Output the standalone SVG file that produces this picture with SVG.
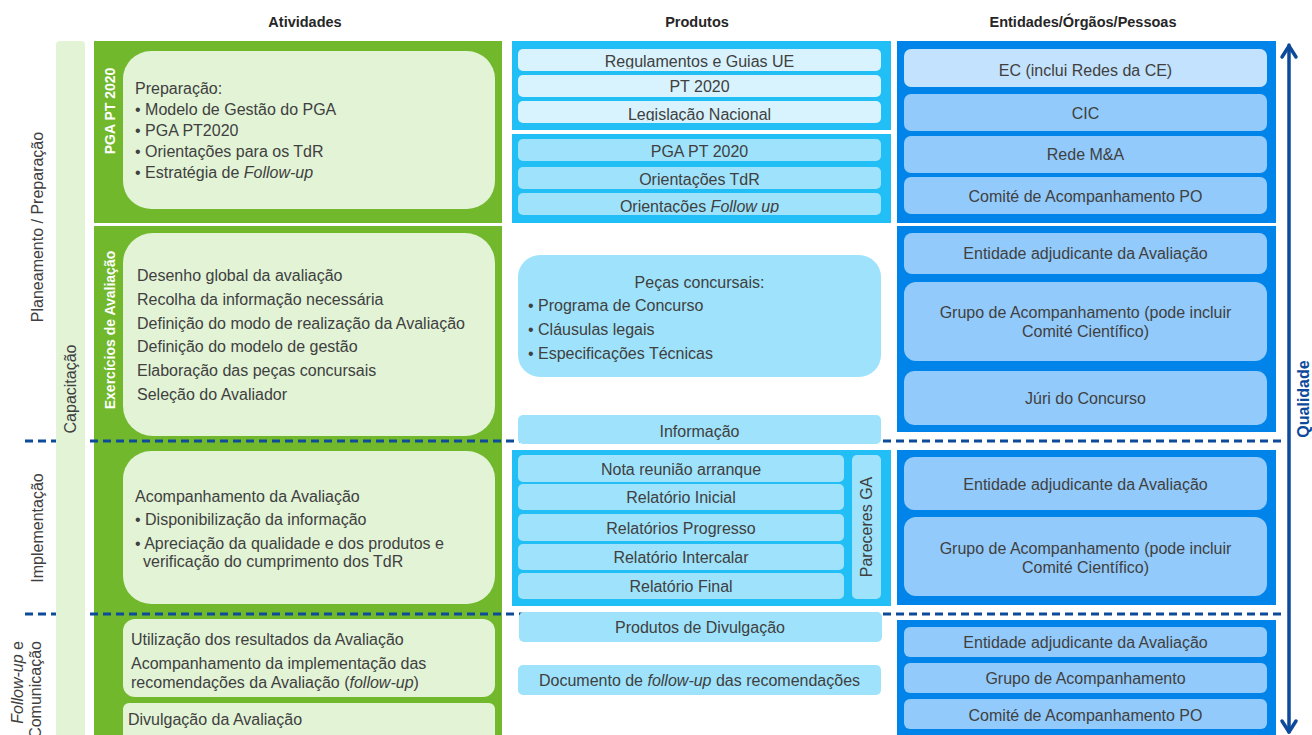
<svg xmlns="http://www.w3.org/2000/svg" width="1312" height="735" viewBox="0 0 1312 735">
<style>
.t{font-family:"Liberation Sans",Arial,Helvetica,sans-serif;font-size:16px;fill:#404040}
.c{text-anchor:middle}
.h{font-weight:bold;font-size:14.5px;fill:#262626}
.w{fill:#fff;font-weight:bold;font-size:14px}
.it{font-style:italic}
.g{fill:#71b82c}
.lg{fill:#e2f3d6}
.cy{fill:#22bff6}
.lc{fill:#9ee3fb}
.vlc{fill:#d8f3fd}
.bl{fill:#0084ea}
.lb{fill:#92cafb}
.vlb{fill:#c3e2fd}
.dash{stroke:#0d4a9a;stroke-width:3;stroke-dasharray:8 5;fill:none}
</style>
<defs>
<clipPath id="cp1"><rect x="518" y="49" width="363" height="19.5"/></clipPath>
<clipPath id="cp2"><rect x="518" y="101" width="363" height="20"/></clipPath>
<clipPath id="cp3"><rect x="518" y="193" width="363" height="20"/></clipPath>
</defs>
<rect width="1312" height="735" fill="#fff"/>

<g id="headers">
<text class="t c h" x="305" y="27">Atividades</text>
<text class="t c h" x="697" y="27">Produtos</text>
<text class="t c h" x="1083" y="27">Entidades/Órgãos/Pessoas</text>
</g>

<g id="phase-labels">
<text class="t c" transform="translate(42.5,227) rotate(-90)">Planeamento / Preparação</text>
<text class="t c" transform="translate(42.5,528) rotate(-90)">Implementação</text>
<text class="t" text-anchor="end" transform="translate(22.5,641) rotate(-90)"><tspan class="it">Follow-up</tspan> e</text>
<text class="t" text-anchor="end" transform="translate(40.5,641) rotate(-90)">Comunicação</text>
</g>

<g id="activities-column">
<rect class="g" x="94" y="41" width="408" height="182"/>
<rect class="g" x="94" y="226" width="408" height="509"/>
</g>

<g id="connectors">
<line class="dash" x1="25" y1="441" x2="1283" y2="441"/>
<line class="dash" x1="25" y1="614" x2="1283" y2="614"/>
<g id="qualidade-arrow" stroke="#0d4a9a" stroke-width="3.5" fill="none" stroke-linecap="round" stroke-linejoin="round">
<line x1="1289" y1="45" x2="1289" y2="732"/>
<polyline points="1282,57 1289,46 1296,57"/>
<polyline points="1282,721 1289,732 1296,721"/>
</g>
</g>

<g id="capacitacao">
<rect class="lg" x="56" y="41" width="29" height="700" rx="4"/>
<text class="t c" transform="translate(75.5,389) rotate(-90)">Capacitação</text>
</g>

<g id="act-pga">
<rect class="lg" x="123" y="51" width="372" height="158" rx="28"/>
<text class="t c w" transform="translate(115,111) rotate(-90)">PGA PT 2020</text>
<text class="t" x="135" y="94">Preparação:</text>
<text class="t" x="135" y="115">• Modelo de Gestão do PGA</text>
<text class="t" x="135" y="136">• PGA PT2020</text>
<text class="t" x="135" y="157">• Orientações para os TdR</text>
<text class="t" x="135" y="178">• Estratégia de <tspan class="it">Follow-up</tspan></text>
</g>

<g id="act-exercicios">
<rect class="lg" x="123" y="233" width="372" height="203" rx="30"/>
<text class="t c w" font-size="13.6" transform="translate(114.5,330) rotate(-90)">Exercícios de Avaliação</text>
<text class="t" x="137" y="281">Desenho global da avaliação</text>
<text class="t" x="137" y="305">Recolha da informação necessária</text>
<text class="t" x="137" y="329">Definição do modo de realização da Avaliação</text>
<text class="t" x="137" y="352">Definição do modelo de gestão</text>
<text class="t" x="137" y="376">Elaboração das peças concursais</text>
<text class="t" x="137" y="400">Seleção do Avaliador</text>
</g>

<g id="act-implementacao">
<rect class="lg" x="123" y="451" width="372" height="153" rx="28"/>
<text class="t" x="135" y="501.5">Acompanhamento da Avaliação</text>
<text class="t" x="135" y="524.5">• Disponibilização da informação</text>
<text class="t" x="135" y="548.5">• Apreciação da qualidade e dos produtos e</text>
<text class="t" x="143" y="566.5">verificação do cumprimento dos TdR</text>
</g>

<g id="act-followup">
<rect class="lg" x="123" y="619" width="372" height="78" rx="12"/>
<text class="t" x="131" y="644.5">Utilização dos resultados da Avaliação</text>
<text class="t" x="131" y="668.5">Acompanhamento da implementação das</text>
<text class="t" x="131" y="687.5">recomendações da Avaliação (<tspan class="it">follow-up</tspan>)</text>
</g>

<g id="act-divulgacao">
<rect class="lg" x="123" y="703" width="372" height="40" rx="6"/>
<text class="t" x="128" y="724.5">Divulgação da Avaliação</text>
</g>

<g id="prod-ref">
<rect class="cy" x="512" y="41" width="379" height="89"/>
<rect class="vlc" x="518" y="49" width="363" height="22" rx="5"/>
<rect class="vlc" x="518" y="75" width="363" height="22" rx="5"/>
<rect class="vlc" x="518" y="101" width="363" height="22" rx="5"/>
<text class="t c" x="699.5" y="66.5" clip-path="url(#cp1)">Regulamentos e Guias UE</text>
<text class="t c" x="699.5" y="91.5">PT 2020</text>
<text class="t c" x="699.5" y="120" clip-path="url(#cp2)">Legislação Nacional</text>
</g>

<g id="prod-pga">
<rect class="cy" x="512" y="134" width="379" height="89"/>
<rect class="lc" x="518" y="139" width="363" height="22" rx="5"/>
<rect class="lc" x="518" y="167" width="363" height="22" rx="5"/>
<rect class="lc" x="518" y="193" width="363" height="22" rx="5"/>
<text class="t c" x="699.5" y="157">PGA PT 2020</text>
<text class="t c" x="699.5" y="185">Orientações TdR</text>
<text class="t c" x="699.5" y="211.5" clip-path="url(#cp3)">Orientações <tspan class="it">Follow up</tspan></text>
</g>

<g id="prod-pecas">
<rect class="lc" x="518" y="255" width="363" height="122" rx="22"/>
<text class="t c" x="699.5" y="287.5">Peças concursais:</text>
<text class="t" x="528" y="310.5">• Programa de Concurso</text>
<text class="t" x="528" y="334.5">• Cláusulas legais</text>
<text class="t" x="528" y="358.5">• Especificações Técnicas</text>
</g>

<g id="prod-informacao">
<rect class="lc" x="518" y="415" width="363" height="29" rx="5"/>
<text class="t c" x="699.5" y="436.5">Informação</text>
</g>

<g id="prod-relatorios">
<rect class="cy" x="512" y="450" width="379" height="156"/>
<rect class="lc" x="518" y="455" width="326" height="27" rx="5"/>
<rect class="lc" x="518" y="484" width="326" height="26" rx="5"/>
<rect class="lc" x="518" y="514" width="326" height="27" rx="5"/>
<rect class="lc" x="518" y="544" width="326" height="26" rx="5"/>
<rect class="lc" x="518" y="573" width="326" height="26" rx="5"/>
<text class="t c" x="681" y="474.5">Nota reunião arranque</text>
<text class="t c" x="681" y="502.5">Relatório Inicial</text>
<text class="t c" x="681" y="533.5">Relatórios Progresso</text>
<text class="t c" x="681" y="562.5">Relatório Intercalar</text>
<text class="t c" x="681" y="591.5">Relatório Final</text>
<rect class="lc" x="852" y="455" width="29" height="144" rx="5"/>
<text class="t c" transform="translate(871.5,527) rotate(-90)">Pareceres GA</text>
</g>

<g id="prod-divulgacao">
<rect class="lc" x="519" y="612" width="363" height="30" rx="5"/>
<text class="t c" x="700" y="632.5">Produtos de Divulgação</text>
</g>

<g id="prod-followup">
<rect class="lc" x="518" y="665" width="363" height="30" rx="5"/>
<text class="t c" x="699.5" y="685.5">Documento de <tspan class="it">follow-up</tspan> das recomendações</text>
</g>

<g id="ent-prep">
<rect class="bl" x="897" y="41" width="379" height="182"/>
<rect class="vlb" x="904" y="49" width="363" height="38" rx="7"/>
<rect class="lb" x="904" y="94" width="363" height="37" rx="7"/>
<rect class="lb" x="904" y="136" width="363" height="37" rx="7"/>
<rect class="lb" x="904" y="177" width="363" height="37" rx="7"/>
<text class="t c" x="1085.5" y="75.5">EC (inclui Redes da CE)</text>
<text class="t c" x="1085.5" y="118.5">CIC</text>
<text class="t c" x="1085.5" y="160">Rede M&amp;A</text>
<text class="t c" x="1085.5" y="201.5">Comité de Acompanhamento PO</text>
</g>

<g id="ent-exercicios">
<rect class="bl" x="897" y="226" width="379" height="206"/>
<rect class="lb" x="904" y="233" width="363" height="41" rx="8"/>
<rect class="lb" x="904" y="282" width="363" height="79" rx="12"/>
<rect class="lb" x="904" y="371" width="363" height="54" rx="10"/>
<text class="t c" x="1085.5" y="258.5">Entidade adjudicante da Avaliação</text>
<text class="t c" x="1085.5" y="317.5">Grupo de Acompanhamento (pode incluir</text>
<text class="t c" x="1085.5" y="336.5">Comité Científico)</text>
<text class="t c" x="1085.5" y="403.5">Júri do Concurso</text>
</g>

<g id="ent-implementacao">
<rect class="bl" x="897" y="450" width="379" height="155"/>
<rect class="lb" x="904" y="457" width="363" height="53" rx="10"/>
<rect class="lb" x="904" y="517" width="363" height="79" rx="12"/>
<text class="t c" x="1085.5" y="489.5">Entidade adjudicante da Avaliação</text>
<text class="t c" x="1085.5" y="553.5">Grupo de Acompanhamento (pode incluir</text>
<text class="t c" x="1085.5" y="572.5">Comité Científico)</text>
</g>

<g id="ent-followup">
<rect class="bl" x="897" y="620" width="379" height="120"/>
<rect class="lb" x="904" y="627" width="363" height="30" rx="6"/>
<rect class="lb" x="904" y="663" width="363" height="30" rx="6"/>
<rect class="lb" x="904" y="699" width="363" height="30" rx="6"/>
<text class="t c" x="1085.5" y="647.5">Entidade adjudicante da Avaliação</text>
<text class="t c" x="1085.5" y="683.5">Grupo de Acompanhamento</text>
<text class="t c" x="1085.5" y="720.5">Comité de Acompanhamento PO</text>
</g>

<g id="qualidade-label">
<text class="t c" font-weight="bold" font-size="13" fill="#0d4a9a" style="fill:#0d4a9a" transform="translate(1308.5,399) rotate(-90)">Qualidade</text>
</g>
</svg>
